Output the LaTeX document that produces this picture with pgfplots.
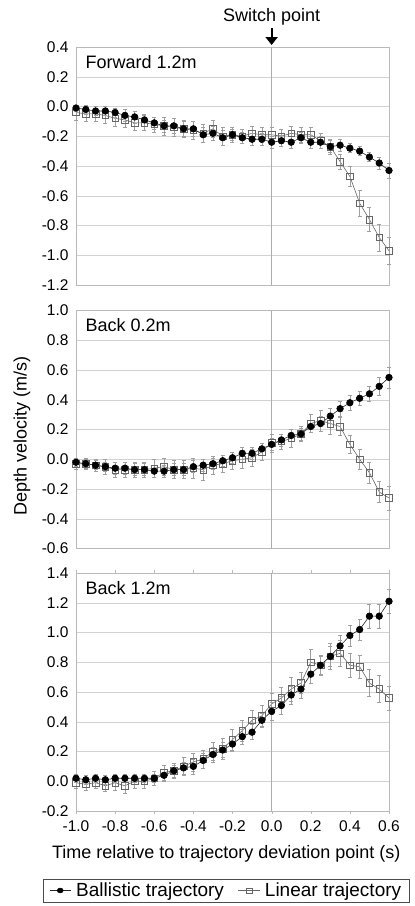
\documentclass[border=0pt]{standalone}
\usepackage{pgfplots}
\usepackage{pgfplotstable}
\pgfplotsset{compat=1.18}
\usepackage{fontspec}
\setmainfont{Liberation Sans}
\usetikzlibrary{arrows.meta}

\pgfplotstableread{
x yb eb yl el
-1.00 -0.01 0.02 -0.04 0.05
-0.95 -0.02 0.03 -0.05 0.05
-0.90 -0.03 0.03 -0.05 0.05
-0.85 -0.03 0.03 -0.06 0.05
-0.80 -0.04 0.03 -0.08 0.05
-0.75 -0.06 0.04 -0.09 0.05
-0.70 -0.07 0.04 -0.11 0.05
-0.65 -0.09 0.04 -0.11 0.05
-0.60 -0.11 0.04 -0.12 0.05
-0.55 -0.13 0.04 -0.13 0.06
-0.50 -0.13 0.05 -0.14 0.06
-0.45 -0.15 0.05 -0.15 0.06
-0.40 -0.15 0.05 -0.16 0.06
-0.35 -0.19 0.05 -0.18 0.06
-0.30 -0.18 0.05 -0.15 0.06
-0.25 -0.21 0.05 -0.20 0.06
-0.20 -0.19 0.04 -0.19 0.05
-0.15 -0.21 0.04 -0.20 0.05
-0.10 -0.22 0.04 -0.18 0.05
-0.05 -0.22 0.04 -0.19 0.05
 0.00 -0.24 0.04 -0.19 0.05
 0.05 -0.23 0.04 -0.20 0.05
 0.10 -0.24 0.04 -0.18 0.05
 0.15 -0.21 0.04 -0.19 0.05
 0.20 -0.24 0.04 -0.19 0.05
 0.25 -0.24 0.04 -0.23 0.05
 0.30 -0.27 0.04 -0.27 0.05
 0.35 -0.26 0.04 -0.37 0.05
 0.40 -0.28 0.03 -0.47 0.065
 0.45 -0.30 0.03 -0.65 0.09
 0.50 -0.34 0.03 -0.76 0.08
 0.55 -0.38 0.04 -0.88 0.09
 0.60 -0.43 0.05 -0.97 0.09
}\dataA

\pgfplotstableread{
x yb eb yl el
-1.00 -0.02 0.03 -0.03 0.04
-0.95 -0.03 0.03 -0.03 0.04
-0.90 -0.04 0.03 -0.04 0.04
-0.85 -0.05 0.03 -0.05 0.05
-0.80 -0.06 0.04 -0.07 0.05
-0.75 -0.06 0.04 -0.07 0.05
-0.70 -0.07 0.04 -0.07 0.05
-0.65 -0.07 0.04 -0.07 0.05
-0.60 -0.08 0.04 -0.06 0.06
-0.55 -0.08 0.04 -0.05 0.06
-0.50 -0.07 0.04 -0.07 0.06
-0.45 -0.07 0.04 -0.07 0.06
-0.40 -0.05 0.04 -0.06 0.07
-0.35 -0.04 0.04 -0.07 0.07
-0.30 -0.03 0.04 -0.04 0.06
-0.25 -0.01 0.04 -0.03 0.06
-0.20  0.01 0.04 -0.01 0.06
-0.15  0.04 0.04  0.00 0.06
-0.10  0.04 0.04  0.01 0.06
-0.05  0.07 0.04  0.05 0.06
 0.00  0.10 0.04  0.11 0.06
 0.05  0.13 0.04  0.12 0.05
 0.10  0.16 0.04  0.14 0.06
 0.15  0.17 0.04  0.17 0.05
 0.20  0.22 0.04  0.24 0.06
 0.25  0.24 0.05  0.26 0.07
 0.30  0.29 0.05  0.24 0.07
 0.35  0.34 0.05  0.22 0.06
 0.40  0.38 0.05  0.10 0.06
 0.45  0.41 0.05  0.00 0.07
 0.50  0.44 0.05 -0.09 0.07
 0.55  0.49 0.06 -0.22 0.07
 0.60  0.55 0.07 -0.26 0.08
}\dataB

\pgfplotstableread{
x yb eb yl el
-1.00 0.02 0.03 -0.01 0.04
-0.95 0.01 0.03 -0.02 0.04
-0.90 0.02 0.03 -0.01 0.04
-0.85 0.01 0.03 -0.03 0.04
-0.80 0.02 0.03 -0.01 0.05
-0.75 0.02 0.03 -0.03 0.05
-0.70 0.02 0.03  0.00 0.05
-0.65 0.02 0.03  0.00 0.05
-0.60 0.02 0.03  0.02 0.05
-0.55 0.04 0.04  0.06 0.05
-0.50 0.07 0.04  0.07 0.05
-0.45 0.09 0.04  0.10 0.06
-0.40 0.10 0.05  0.13 0.06
-0.35 0.14 0.05  0.15 0.06
-0.30 0.18 0.05  0.20 0.06
-0.25 0.21 0.05  0.22 0.07
-0.20 0.25 0.05  0.28 0.07
-0.15 0.30 0.05  0.34 0.07
-0.10 0.33 0.05  0.41 0.07
-0.05 0.41 0.05  0.44 0.07
 0.00 0.47 0.06  0.52 0.07
 0.05 0.51 0.06  0.56 0.07
 0.10 0.58 0.06  0.62 0.08
 0.15 0.62 0.06  0.66 0.07
 0.20 0.72 0.06  0.80 0.09
 0.25 0.78 0.06  0.78 0.07
 0.30 0.84 0.07  0.84 0.09
 0.35 0.91 0.07  0.86 0.09
 0.40 0.98 0.07  0.78 0.08
 0.45 1.02 0.07  0.77 0.08
 0.50 1.11 0.08  0.66 0.09
 0.55 1.11 0.08  0.62 0.09
 0.60 1.21 0.08  0.56 0.08
}\dataC

\pgfplotsset{
  panel/.style={
    scale only axis, width=313pt, height=238pt,
    xmin=-1, xmax=0.6,
    xtick={-1,-0.8,-0.6,-0.4,-0.2,0,0.2,0.4,0.6},
    ytick distance=0.2,
    ymajorgrids, major grid style={gray!35, line width=0.5pt},
    axis line style={gray!55},
    ytick style={draw=none},
    extra x ticks={0}, extra x tick labels={},
    extra x tick style={grid=major, major grid style={gray!65, line width=0.5pt}, tick style={draw=none}},
    /pgf/number format/assume math mode=true,
    ticklabel style={font=\fontsize{15.5}{17}\selectfont},
    yticklabel style={xshift=-4pt, /pgf/number format/.cd, fixed, fixed zerofill, precision=1},
    xticklabel style={yshift=-3pt, /pgf/number format/.cd, fixed, fixed zerofill, precision=1},
    clip=false,
  },
  ball/.style={black!85, line width=0.6pt, mark=*, mark size=3.3pt, mark options={fill=black, draw=black, solid},
    error bars/.cd, y dir=both, y explicit, error bar style={gray!75, line width=0.5pt},
    error mark options={gray!75, mark size=2pt, line width=0.5pt, rotate=90}},
  lin/.style={gray!80!black, line width=0.6pt, mark=square, mark size=3.3pt, mark options={fill=white, draw=gray!80!black, solid},
    error bars/.cd, y dir=both, y explicit, error bar style={gray!75, line width=0.5pt},
    error mark options={gray!75, mark size=2pt, line width=0.5pt, rotate=90}},
}

\begin{document}
\begin{tikzpicture}[font=\fontsize{18}{21}\selectfont]
\path[use as bounding box] (-76pt,47pt) rectangle (339pt,-859pt);

\begin{axis}[panel, at={(0pt,0pt)}, anchor=north west, name=A,
  ymin=-1.2, ymax=0.4, xticklabels={}, xtick style={draw=none}]
  \addplot[lin] table[x=x, y=yl, y error=el] {\dataA};
  \addplot[ball] table[x=x, y=yb, y error=eb] {\dataA};
  \node[anchor=west] at ([xshift=6pt,yshift=-15pt]rel axis cs:0,1) {Forward 1.2m};
  \draw[-{Triangle[length=8pt,width=12pt]}, line width=2.2pt] ([yshift=19pt]axis cs:0,0.4) -- ([yshift=2pt]axis cs:0,0.4);
  \node at ([yshift=30pt]axis cs:0,0.4) {Switch point};
\end{axis}

\begin{axis}[panel, at={(0pt,-263.5pt)}, anchor=north west, name=B,
  ymin=-0.6, ymax=1.0, xticklabels={}, xtick style={draw=none}]
  \addplot[lin] table[x=x, y=yl, y error=el] {\dataB};
  \addplot[ball] table[x=x, y=yb, y error=eb] {\dataB};
  \node[anchor=west] at ([xshift=6pt,yshift=-15pt]rel axis cs:0,1) {Back 0.2m};
  \node[rotate=90, anchor=center] at ([xshift=-54pt,yshift=-6pt]rel axis cs:0,0.5) {Depth velocity (m/s)};
\end{axis}

\begin{axis}[panel, at={(0pt,-526pt)}, anchor=north west, name=C,
  ymin=-0.2, ymax=1.4,
  xtick style={gray!55}, xtick align=outside, major tick length=3pt,
  xlabel={Time relative to trajectory deviation point (s)},
  xlabel style={at={(rel axis cs:0.48,0)}, anchor=center, yshift=-43pt},
  legend columns=2,
  legend style={at={(rel axis cs:0.48,-0.334)}, anchor=center, draw=black!70, line width=0.6pt,
    font=\fontsize{19}{22}\selectfont,
    /tikz/every odd column/.append style={column sep=3pt},
    /tikz/every even column/.append style={column sep=12pt},
    inner xsep=6pt, inner ysep=2pt},
  legend image post style={xscale=1.25, mark size=2.4pt},
  reverse legend]
  \addplot[lin] table[x=x, y=yl, y error=el] {\dataC};
  \addlegendentry{Linear trajectory}
  \addplot[ball] table[x=x, y=yb, y error=eb] {\dataC};
  \addlegendentry{Ballistic trajectory}
  \node[anchor=west] at ([xshift=6pt,yshift=-15pt]rel axis cs:0,1) {Back 1.2m};
\end{axis}
\end{tikzpicture}
\end{document}
